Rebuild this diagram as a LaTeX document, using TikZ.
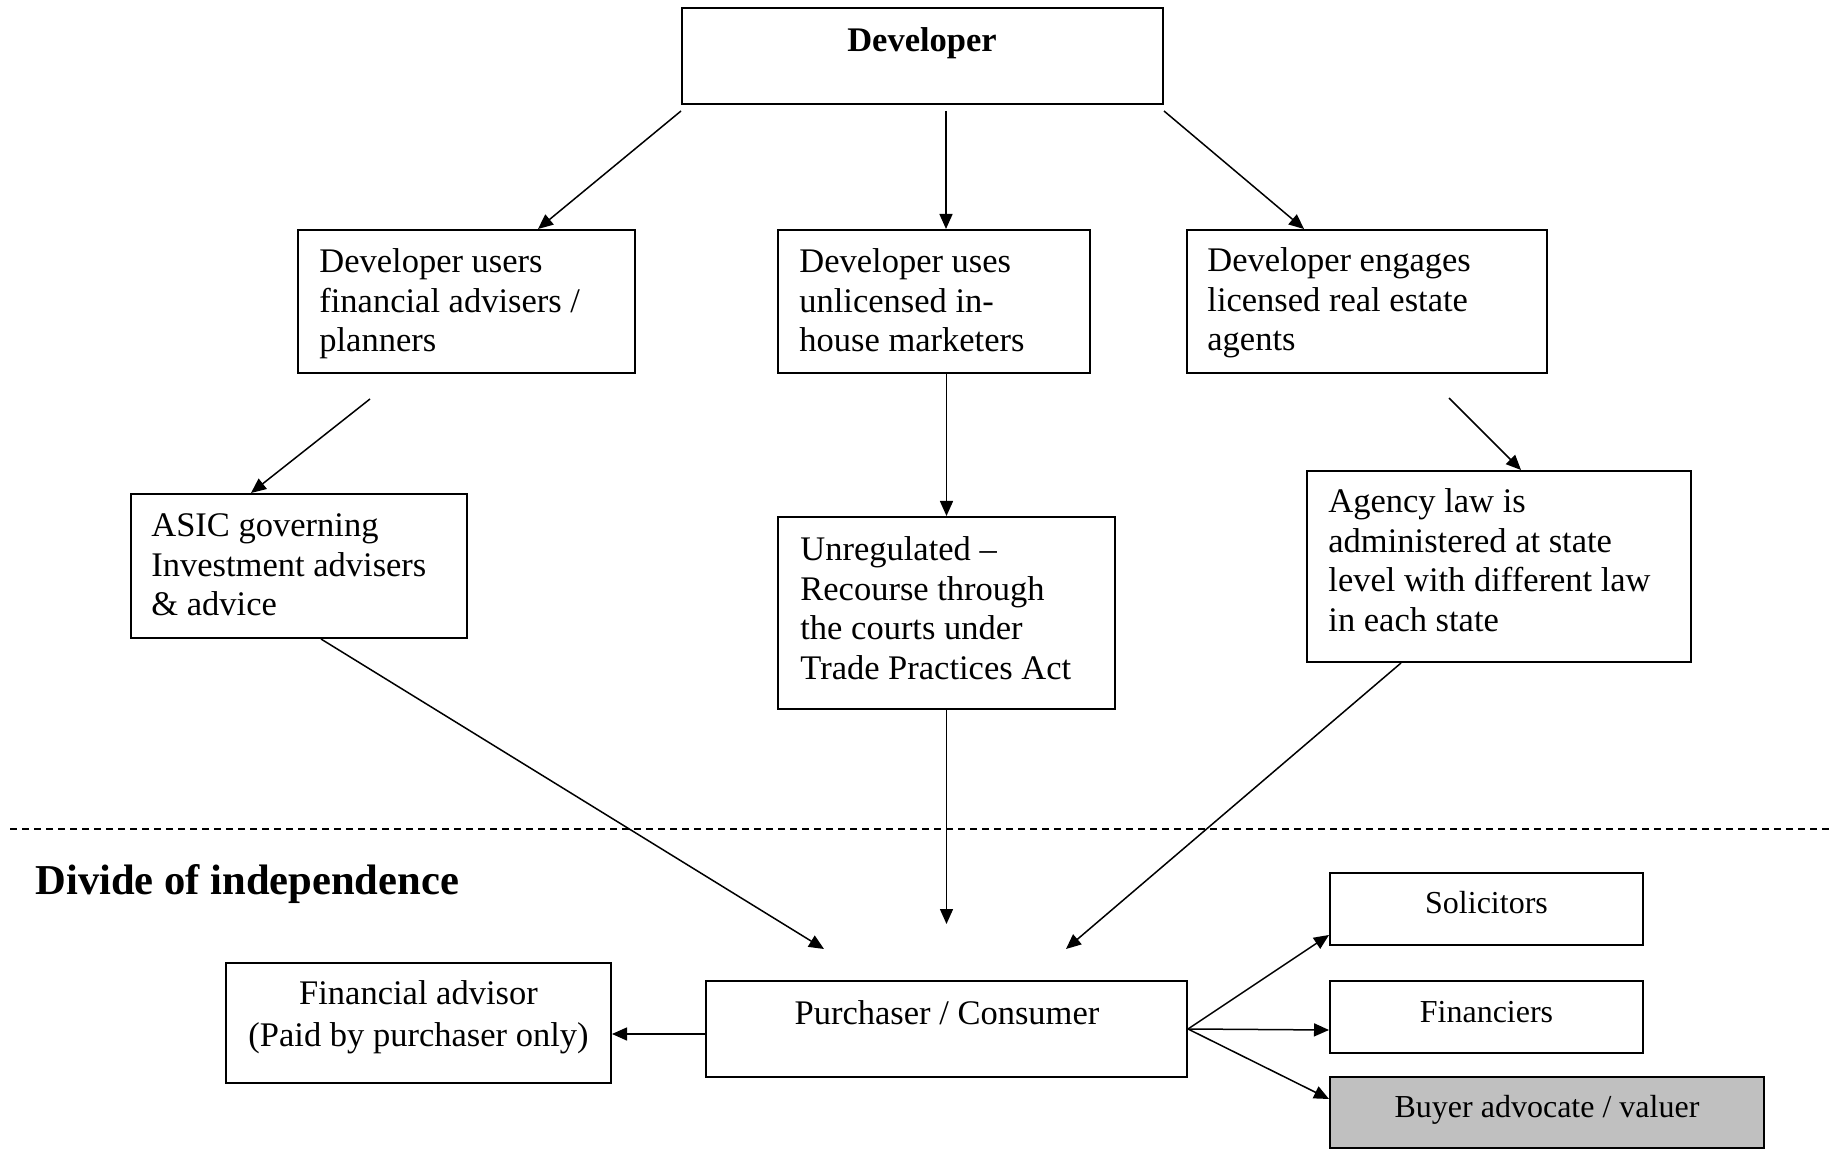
\documentclass[tikz,border=0pt]{standalone}
\usepackage{fontspec}
\setmainfont{Liberation Serif}
\usetikzlibrary{arrows.meta,calc}
\begin{document}
\begin{tikzpicture}[x=0.5pt,y=-0.5pt,
  box/.style={draw, line width=1pt, inner sep=0pt, rectangle},
  txt/.style={inner sep=0pt, font=\fontsize{17.25}{19.75}\selectfont},
  smalltxt/.style={inner sep=0pt, font=\fontsize{16}{19}\selectfont},
  arr/.style={line width=0.75pt, -{Triangle[length=7.5pt,width=6.5pt]}},
  divline/.style={line width=0.65pt, dash pattern=on 3.5pt off 2.5pt}
]
\useasboundingbox (0,0) rectangle (1832,1149);
\renewcommand{\arraystretch}{1}

% boxes
\node[box, minimum width=240.5pt, minimum height=48pt] (dev) at (922.5,56) {};
\node[box, minimum width=168.5pt, minimum height=71.5pt] (A) at (466.5,301.5) {};
\node[box, minimum width=156pt, minimum height=71.5pt] (B) at (934,301.5) {};
\node[box, minimum width=180pt, minimum height=71.5pt] (C) at (1367,301.5) {};
\node[box, minimum width=168pt, minimum height=72pt] (D) at (299,566) {};
\node[box, minimum width=168.5pt, minimum height=96pt] (E) at (946.5,613) {};
\node[box, minimum width=192pt, minimum height=95.5pt] (F) at (1499,566.5) {};
\node[box, minimum width=240.5pt, minimum height=48pt] (P) at (946.5,1029) {};
\node[box, minimum width=192.5pt, minimum height=60pt] (FA) at (418.5,1023) {};
\node[box, minimum width=156.5pt, minimum height=36pt] (S) at (1486.5,909) {};
\node[box, minimum width=156.5pt, minimum height=36pt] (Fi) at (1486.5,1017) {};
\node[box, fill={rgb,255:red,192;green,192;blue,192}, minimum width=217pt, minimum height=35.5pt] (Bu) at (1547,1112.5) {};

% texts
\node[txt, font=\fontsize{17.25}{19.75}\selectfont\bfseries, anchor=base] (devt) at (922,52) {Developer};
\node[txt, anchor=base west] (At) at (319,273) {\begin{tabular}[t]{@{}l@{}}Developer users\\financial advisers /\\planners\end{tabular}};
\node[txt, anchor=base west] (Bt) at (799,273) {\begin{tabular}[t]{@{}l@{}}Developer uses\\unlicensed in-\\house marketers\end{tabular}};
\node[txt, anchor=base west] (Ct) at (1207,272) {\begin{tabular}[t]{@{}l@{}}Developer engages\\licensed real estate\\agents\end{tabular}};
\node[txt, anchor=base west] (Dt) at (151,537) {\begin{tabular}[t]{@{}l@{}}ASIC governing\\Investment advisers\\\& advice\end{tabular}};
\node[txt, anchor=base west] (Et) at (800,561) {\begin{tabular}[t]{@{}l@{}}Unregulated \textendash\\Recourse through\\the courts under\\Trade Practices Act\end{tabular}};
\node[txt, anchor=base west] (Ft) at (1328,513) {\begin{tabular}[t]{@{}l@{}}Agency law is\\administered at state\\level with different law\\in each state\end{tabular}};
\node[txt, font=\fontsize{21.3}{25}\selectfont\bfseries, anchor=base west] (divt) at (35,894) {Divide of independence};
\node[txt, anchor=base] (Pt) at (947,1024) {Purchaser / Consumer};
\node[txt, anchor=base] (FAt) at (418.5,1004) {\begin{tabular}[t]{@{}c@{}}Financial advisor\\[1.5pt](Paid by purchaser only)\end{tabular}};
\node[smalltxt, anchor=base] (St) at (1486.5,913) {Solicitors};
\node[smalltxt, anchor=base] (Fit) at (1486.5,1022) {Financiers};
\node[smalltxt, anchor=base] (Bt2) at (1547,1117) {Buyer advocate / valuer};

% dashed divide
\coordinate (dl) at (10,829);
\coordinate (dr) at (1832,829);
\draw[divline] (dl) -- (dr);

% connectors
\draw[arr] ($(dev.south west)+(0,6)$) -- ($(A.north west)+(241,0)$);
\draw[arr] ($(dev.south)+(23.5,6)$) -- ($(B.north)+(12,0)$);
\draw[arr] ($(dev.south east)+(0,6)$) -- ($(C.north west)+(118,0)$);
\draw[arr] ($(A.south west)+(73,25)$) -- ($(D.north west)+(121,0)$);
\draw[arr] (B.south -| E.north) -- (E.north);
\draw[arr] ($(C.south west)+(263,24)$) -- ($(F.north west)+(215,0)$);
\draw[arr] ($(D.south west)+(191,0)$) -- ($(P.north west)+(119,-31)$);
\draw[arr] (E.south) -- ($(P.north)+(0,-56)$);
\draw[arr] ($(F.south west)+(95,0)$) -- ($(P.north west)+(361,-31)$);
\draw[arr] ($(P.west)+(0,5)$) -- ($(FA.east)+(0,11)$);
\draw[arr] (P.east) -- ($(S.south west)+(0,-11)$);
\draw[arr] (P.east) -- ($(Fi.west)+(0,13)$);
\draw[arr] (P.east) -- ($(Bu.north west)+(0,23)$);
\end{tikzpicture}
\end{document}
